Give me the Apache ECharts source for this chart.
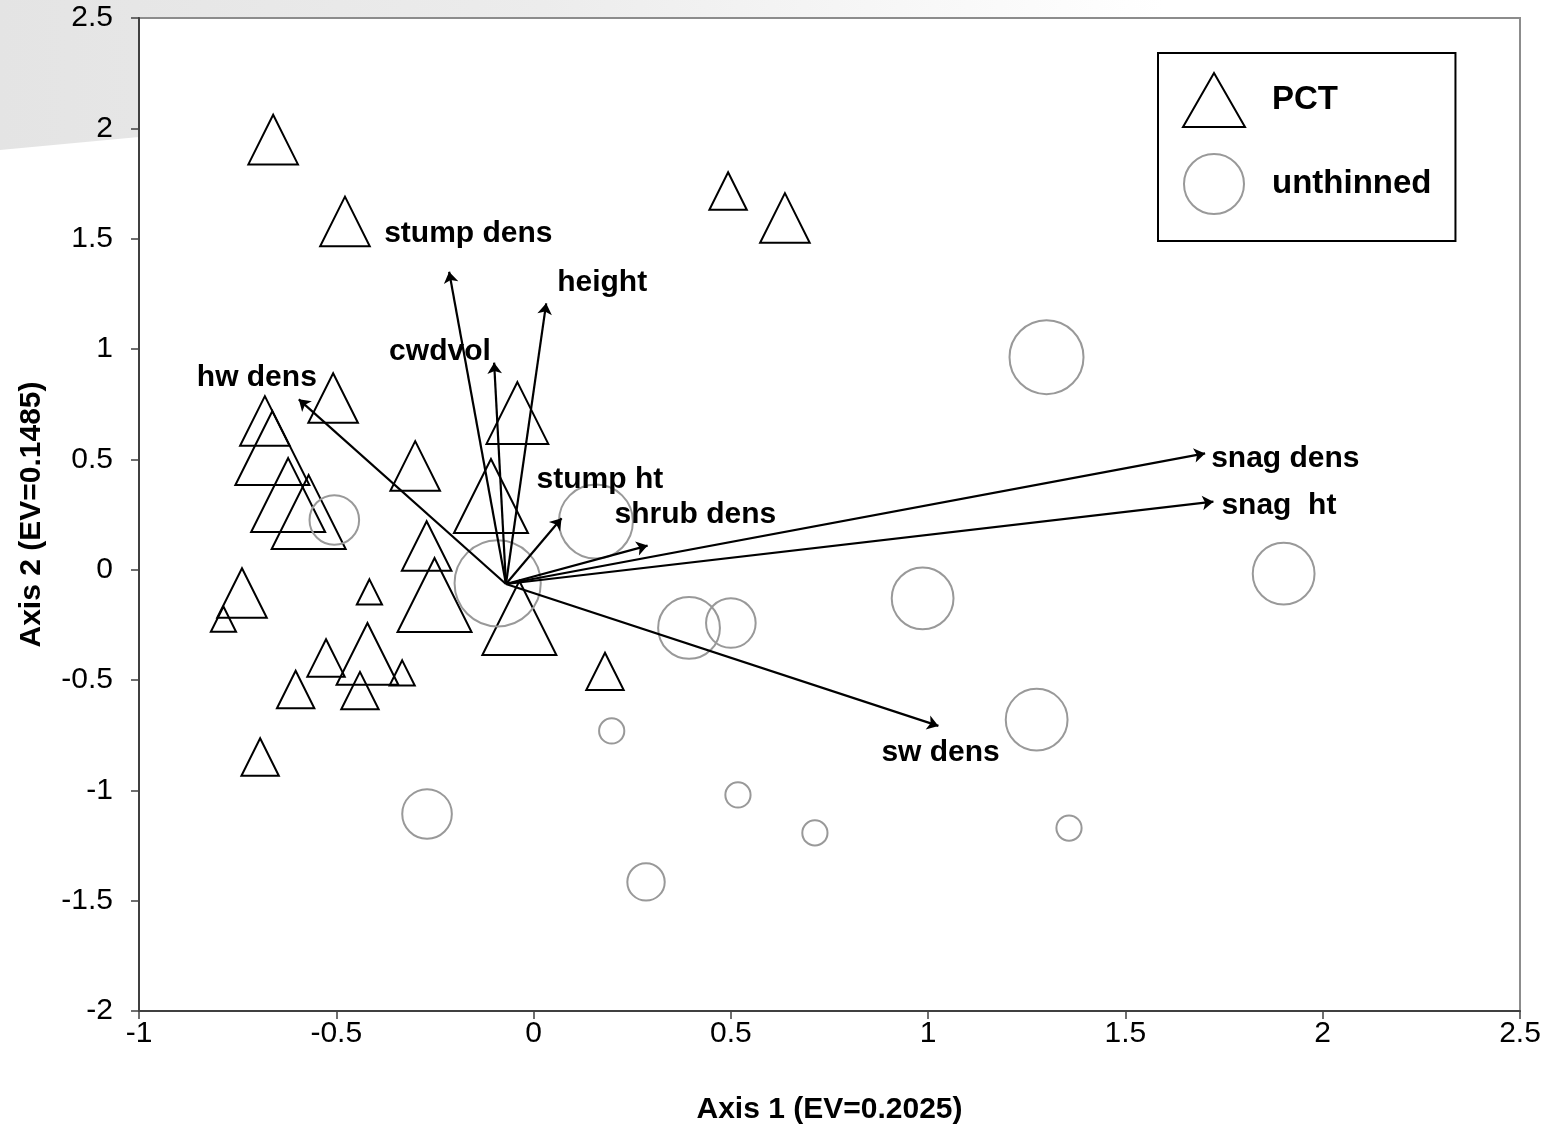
<!DOCTYPE html>
<html>
<head>
<meta charset="utf-8">
<script src="https://cdn.jsdelivr.net/npm/echarts@6/dist/echarts.min.js"></script>
<style>
html,body{margin:0;padding:0;background:#fff;}
#chart{width:1550px;height:1124px;}
</style>
</head>
<body>
<div id="chart"></div>
<script>
// ---- data ----
// PCT plots (triangles): axis 1, axis 2, size class
const pctX = [-0.660,-0.478,0.493,0.637,-0.508,-0.681,-0.662,-0.622,-0.570,-0.300,-0.041,-0.108,-0.271,-0.251,-0.739,-0.786,-0.416,-0.036,-0.421,-0.526,-0.333,-0.440,-0.603,0.181,-0.693];
const pctY = [1.949,1.578,1.716,1.594,0.778,0.674,0.551,0.338,0.261,0.470,0.710,0.334,0.107,-0.115,-0.106,-0.224,-0.101,-0.219,-0.382,-0.400,-0.468,-0.548,-0.543,-0.461,-0.849];
const pctClass = [3,3,2,3,3,3,5,5,5,3,4,5,3,5,3,1,1,5,4,2,1,2,2,2,2];

// unthinned plots (circles)
const untX = [-0.505,-0.091,0.158,0.394,0.500,1.300,0.986,1.901,1.275,0.198,-0.270,0.518,0.713,1.357,0.285];
const untY = [0.225,-0.062,0.218,-0.264,-0.242,0.963,-0.130,-0.018,-0.680,-0.731,-1.107,-1.021,-1.193,-1.171,-1.415];
const untClass = [3,6,5,4,3,5,4,4,4,1,3,1,1,1,2];

// environmental vectors (biplot arrows)
const vecOrigin = [-0.070,-0.065];
const vecNames = ['stump dens','height','cwdvol','hw dens','stump ht','shrub dens','snag dens','snag  ht','sw dens'];
const vecX = [-0.214,0.032,-0.100,-0.595,0.071,0.289,1.702,1.723,1.026];
const vecY = [1.350,1.207,0.938,0.772,0.233,0.109,0.527,0.308,-0.708];

const xTicks = {min:-1, max:2.5, interval:0.5};
const yTicks = {min:-2, max:2.5, interval:0.5};

// ---- presentation ----
const FONT = '"Liberation Sans", Arial, sans-serif';
const sizeOf = c => 12.2 * c + 13;
// label offsets (px) relative to arrow tips
const labelOffset = {
  'stump dens':[-65,-38], 'height':[11,-21], 'cwdvol':[-105,-11], 'hw dens':[-102,-22],
  'stump ht':[-25,-39], 'shrub dens':[-33,-31], 'snag dens':[6,5], 'snag  ht':[8,4], 'sw dens':[-57,27]
};

const pctData = pctX.map((x,i)=>[x,pctY[i],pctClass[i]]);
const untData = untX.map((x,i)=>[x,untY[i],untClass[i]]);
const vecLines = vecNames.map((n,i)=>({name:n, coords:[vecOrigin,[vecX[i],vecY[i]]]}));
const vecLabels = vecNames.map((n,i)=>({
  name:n, value:[vecX[i],vecY[i]],
  label:{offset:labelOffset[n]}
}));

const chart = echarts.init(document.getElementById('chart'), null, {renderer:'canvas'});
chart.setOption({
  animation:false,
  backgroundColor:'#fff',
  graphic:[{
    type:'polygon', z:-10, silent:true,
    shape:{points:[[0,0],[1550,0],[1550,4],[139,137],[0,150]]},
    style:{fill:new echarts.graphic.LinearGradient(0,0,1,0,[
      {offset:0,color:'#e4e4e4'},{offset:0.35,color:'#ececec'},{offset:0.75,color:'#ffffff'},{offset:1,color:'#ffffff'}])}
  }],
  grid:{left:139, top:18, right:30, bottom:113, containLabel:false, outerBoundsMode:'none',
    show:true, backgroundColor:'#fff', borderColor:'#8c8c8c', borderWidth:2},
  legend:{
    orient:'vertical', left:1158, top:53,
    padding:[19,24,26,24], itemGap:25,
    itemWidth:62, itemHeight:60,
    borderColor:'#000', borderWidth:2, backgroundColor:'#fff',
    textStyle:{fontFamily:FONT, fontWeight:'bold', fontSize:33, color:'#000', padding:[14,0,0,22]},
    data:[
      {name:'PCT', icon:'path://M31,0 L62,54 L0,54 Z', itemStyle:{color:'rgba(0,0,0,0)', borderColor:'#000', borderWidth:2}},
      {name:'unthinned', icon:'circle', itemStyle:{color:'rgba(0,0,0,0)', borderColor:'#999', borderWidth:2}}
    ]
  },
  xAxis:{
    type:'value', min:xTicks.min, max:xTicks.max, interval:xTicks.interval,
    name:'Axis 1 (EV=0.2025)', nameLocation:'middle', nameGap:84,
    nameTextStyle:{fontFamily:FONT, fontWeight:'bold', fontSize:30, color:'#000'},
    axisLine:{onZero:false, lineStyle:{color:'#404040', width:2}},
    axisTick:{inside:false, length:8, lineStyle:{color:'#404040', width:1.5}},
    axisLabel:{fontFamily:FONT, fontSize:30, color:'#000', margin:8},
    splitLine:{show:false}
  },
  yAxis:{
    type:'value', min:yTicks.min, max:yTicks.max, interval:yTicks.interval,
    name:'Axis 2 (EV=0.1485)', nameLocation:'middle', nameGap:92, nameRotate:90,
    nameTextStyle:{fontFamily:FONT, fontWeight:'bold', fontSize:30, color:'#000'},
    axisLine:{onZero:false, lineStyle:{color:'#404040', width:2}},
    axisTick:{inside:false, length:8, lineStyle:{color:'#404040', width:1.5}},
    axisLabel:{fontFamily:FONT, fontSize:30, color:'#000', margin:26},
    splitLine:{show:false}
  },
  series:[
    {
      name:'PCT', type:'scatter', symbol:'triangle', data:pctData,
      symbolSize:v=>sizeOf(v[2]),
      itemStyle:{color:'rgba(0,0,0,0)', borderColor:'#000', borderWidth:2, opacity:1},
      z:3
    },
    {
      name:'unthinned', type:'scatter', symbol:'circle', data:untData,
      symbolSize:v=>sizeOf(v[2]),
      itemStyle:{color:'rgba(0,0,0,0)', borderColor:'#999', borderWidth:2, opacity:1},
      z:3
    },
    {
      name:'vectors', type:'lines', coordinateSystem:'cartesian2d',
      data:vecLines, symbol:['none','arrow'], symbolSize:11,
      lineStyle:{color:'#000', width:2.2, opacity:1},
      z:4, silent:true
    },
    {
      name:'vector labels', type:'scatter', data:vecLabels, symbolSize:0,
      itemStyle:{opacity:1, color:'#000'},
      label:{show:true, position:'inside', align:'left', verticalAlign:'middle',
        formatter:p=>p.name, fontFamily:FONT, fontWeight:'bold', fontSize:30, color:'#000', opacity:1},
      z:5, silent:true
    }
  ]
});
</script>
</body>
</html>
